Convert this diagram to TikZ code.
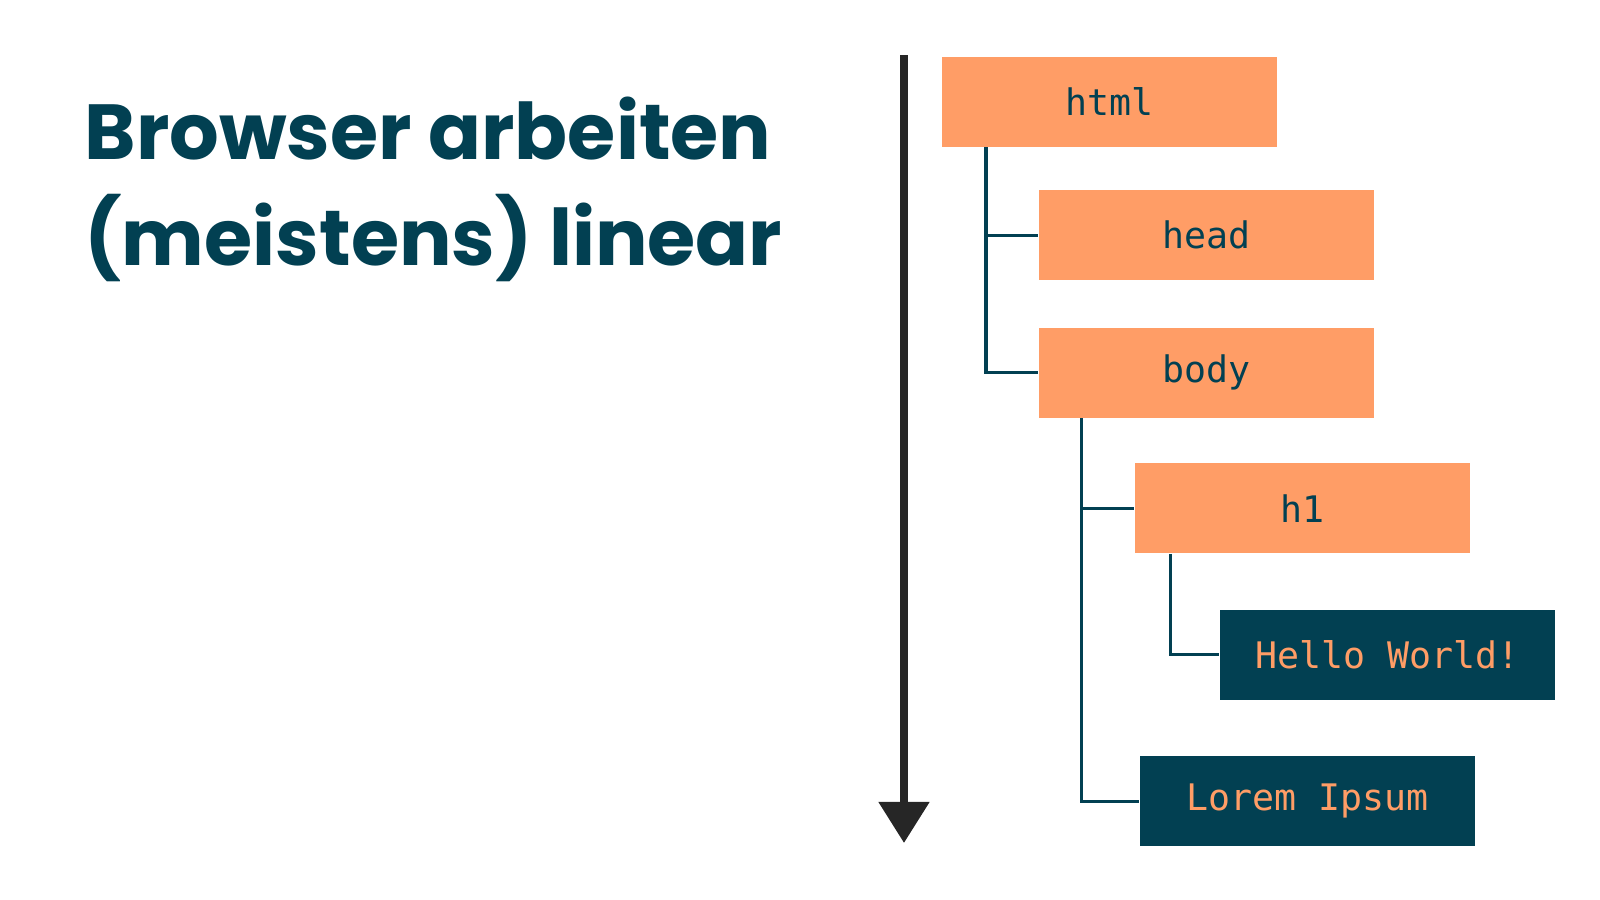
\documentclass[tikz,border=0pt]{standalone}
\usepackage{fontspec}
\usepackage{tikz}
\usetikzlibrary{arrows.meta, positioning}
\setmonofont{DejaVu Sans Mono}
\newfontfamily\headfont{Poppins}
\definecolor{cTeal}{RGB}{2,64,82}
\definecolor{cOrange}{RGB}{255,157,102}
\definecolor{cArrow}{RGB}{38,38,38}
\tikzset{
	tag/.style     ={rectangle, minimum width=3.35cm, minimum height=0.9cm, inner sep=0pt, text centered, font=\ttfamily\fontsize{10.4}{12}\selectfont, fill=cOrange, text=cTeal},
	leaf/.style    ={tag, fill=cTeal, text=cOrange},
	branch/.style  ={draw=cTeal, line width=0.9pt},
	timeline/.style={-{Triangle[length=4.1mm, width=4.9mm]}, line width=2.3pt, draw=cArrow},
}

\begin{document}
\begin{tikzpicture}[x=0.01cm, y=-0.01cm]
	\useasboundingbox (0,0) rectangle (1600,900);
	\node[anchor=base west, align=left, inner sep=0pt, text=cTeal, font=\headfont\bfseries\fontsize{22.2}{29.9}\selectfont] (title) at (84,265) {Browser arbeiten\\(meistens) linear};
	% reading order
	\coordinate (top) at (904,55);
	\coordinate (end) at (904,843);
	\draw[timeline] (top) -- (end);
	% DOM tree
	\node[tag, anchor=north west] (html) at (941,56) {html};
	\node[tag, below right=0.42cm and 0.97cm of html.south west, anchor=north west] (head) {head};
	\node[tag, below=0.46cm of head] (body) {body};
	\node[tag, below right=0.44cm and 0.96cm of body.south west, anchor=north west] (h1) {h1};
	\node[leaf, below right=0.55cm and 0.85cm of h1.south west, anchor=north west] (hello) {Hello World!};
	\node[leaf, below=0.55cm of hello.south west, anchor=north west, xshift=-0.8cm] (lorem) {Lorem Ipsum};
	\draw[branch] ([xshift=0.45cm]html.south west) |- (head.west);
	\draw[branch] ([xshift=0.45cm]html.south west) |- (body.west);
	\draw[branch] ([xshift=0.43cm]body.south west) |- (h1.west);
	\draw[branch] ([xshift=0.43cm]body.south west) |- (lorem.west);
	\draw[branch] ([xshift=0.36cm]h1.south west) |- (hello.west);
\end{tikzpicture}
\end{document}
